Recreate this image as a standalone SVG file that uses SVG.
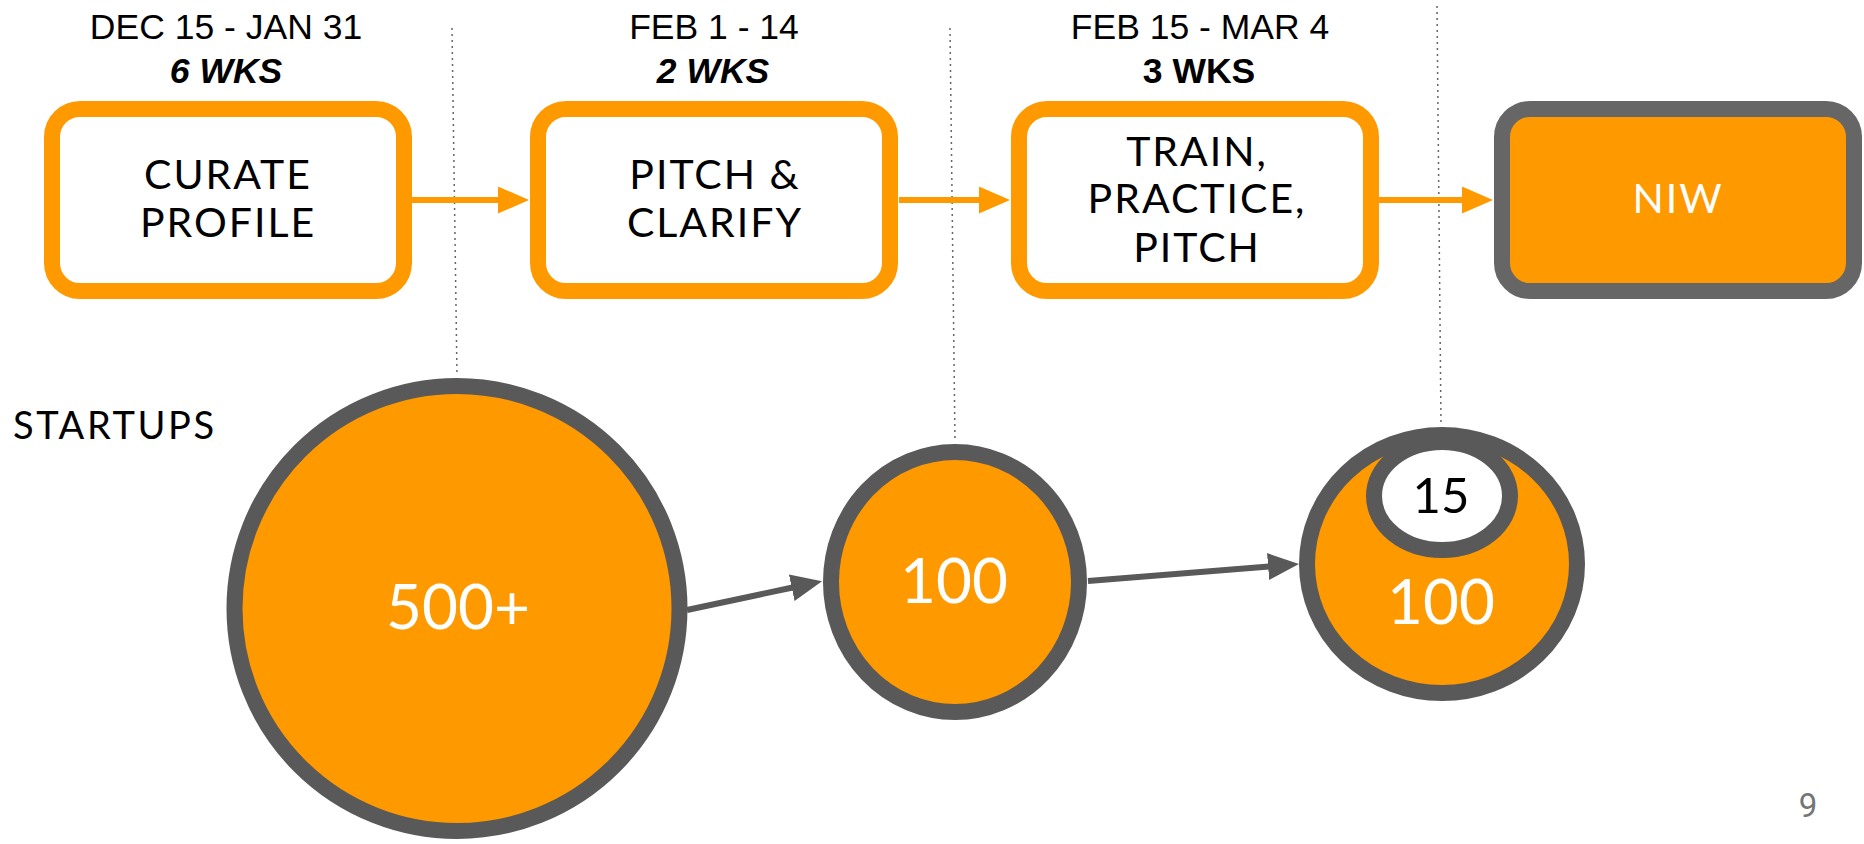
<svg xmlns="http://www.w3.org/2000/svg" width="1864" height="844" viewBox="0 0 1864 844">
<style>
.bg{fill:#ffffff}
.box{fill:#ffffff;stroke:#FF9900;stroke-width:16}
.boxend{fill:#FF9900;stroke:#666666;stroke-width:16}
.circ{fill:#FF9900;stroke:#595959;stroke-width:16}
.inner{fill:#ffffff;stroke:#595959;stroke-width:16}
.date{font-family:"Liberation Sans",Arial,sans-serif;font-size:35.5px;fill:#000;text-anchor:middle}
.dur{font-family:"Liberation Sans",Arial,sans-serif;font-size:35.5px;font-weight:bold;fill:#000;text-anchor:middle}
.lbl{font-family:Lato,"Noto Sans",sans-serif;font-size:41px;fill:#000;text-anchor:middle;letter-spacing:2px}
.num{font-family:Lato,"Noto Sans",sans-serif;font-size:62px;fill:#fff;text-anchor:middle}
.guide{stroke:#666666;stroke-width:1.5;stroke-dasharray:2 4;fill:none}
.oline{stroke:#FF9900;stroke-width:6;fill:none}
.gline{stroke:#595959;stroke-width:6;fill:none}
</style>
<defs>
<marker id="ah-o" markerUnits="userSpaceOnUse" markerWidth="32" markerHeight="28" refX="1" refY="13.5" orient="auto">
<path d="M0,0 L31,13.5 L0,27 Z" fill="#FF9900"/>
</marker>
<marker id="ah-g" markerUnits="userSpaceOnUse" markerWidth="32" markerHeight="28" refX="1" refY="13.5" orient="auto">
<path d="M0,0 L31,13.5 L0,27 Z" fill="#595959"/>
</marker>
</defs>
<rect class="bg" x="0" y="0" width="1864" height="844"/>

<g id="guides">
<line class="guide" x1="452" y1="28" x2="457" y2="376"/>
<line class="guide" x1="950" y1="28" x2="955" y2="441"/>
<line class="guide" x1="1437" y1="6" x2="1441" y2="425"/>
</g>

<g id="phase-labels">
<text class="date" x="226" y="39">DEC 15 - JAN 31</text>
<text class="dur" x="226" y="83" font-style="italic">6 WKS</text>
<text class="date" x="714" y="39">FEB 1 - 14</text>
<text class="dur" x="713" y="83" font-style="italic">2 WKS</text>
<text class="date" x="1200" y="39">FEB 15 - MAR 4</text>
<text class="dur" x="1199" y="83">3 WKS</text>
</g>

<g id="connectors">
<line class="oline" x1="411" y1="200" x2="499" y2="200" marker-end="url(#ah-o)"/>
<line class="oline" x1="899" y1="200" x2="980" y2="200" marker-end="url(#ah-o)"/>
<line class="oline" x1="1379" y1="200" x2="1463" y2="200" marker-end="url(#ah-o)"/>
<line class="gline" x1="687" y1="610" x2="792.7" y2="587.5" marker-end="url(#ah-g)"/>
<line class="gline" x1="1088" y1="581" x2="1269.1" y2="566.5" marker-end="url(#ah-g)"/>
</g>

<g id="node-curate">
<rect class="box" x="52" y="109" width="352" height="182" rx="28" ry="28"/>
<text class="lbl" x="228" y="189">CURATE</text>
<text class="lbl" x="228" y="237">PROFILE</text>
</g>
<g id="node-pitch">
<rect class="box" x="538" y="109" width="352" height="182" rx="28" ry="28"/>
<text class="lbl" x="715" y="189">PITCH &amp;</text>
<text class="lbl" x="715" y="237">CLARIFY</text>
</g>
<g id="node-train">
<rect class="box" x="1019" y="109" width="352" height="182" rx="28" ry="28"/>
<text class="lbl" x="1197" y="166">TRAIN,</text>
<text class="lbl" x="1197" y="213">PRACTICE,</text>
<text class="lbl" x="1197" y="262">PITCH</text>
</g>
<g id="node-niw">
<rect class="boxend" x="1502" y="109" width="352" height="182" rx="28" ry="28"/>
<text class="lbl" x="1678" y="213" style="fill:#ffffff">NIW</text>
</g>

<g id="label-startups">
<text class="lbl" x="13" y="439" style="text-anchor:start;font-size:38px;letter-spacing:2.6px">STARTUPS</text>
</g>

<g id="node-500">
<circle class="circ" cx="457" cy="608.5" r="222.5"/>
<text class="num" x="458" y="629">500+</text>
</g>
<g id="node-100a">
<ellipse class="circ" cx="955" cy="582" rx="124" ry="130"/>
<text class="num" x="954" y="603">100</text>
</g>
<g id="node-100b">
<ellipse class="circ" cx="1442" cy="564" rx="135" ry="129"/>
<text class="num" x="1441" y="624">100</text>
<g id="node-15">
<ellipse class="inner" cx="1442" cy="496" rx="68" ry="54"/>
<text class="lbl" x="1441" y="513" style="font-size:49px;letter-spacing:0">15</text>
</g>
</g>

<g id="page-number">
<text x="1808" y="817" font-family="Roboto,'Liberation Sans',sans-serif" font-size="33" fill="#757575" text-anchor="middle">9</text>
</g>
</svg>
